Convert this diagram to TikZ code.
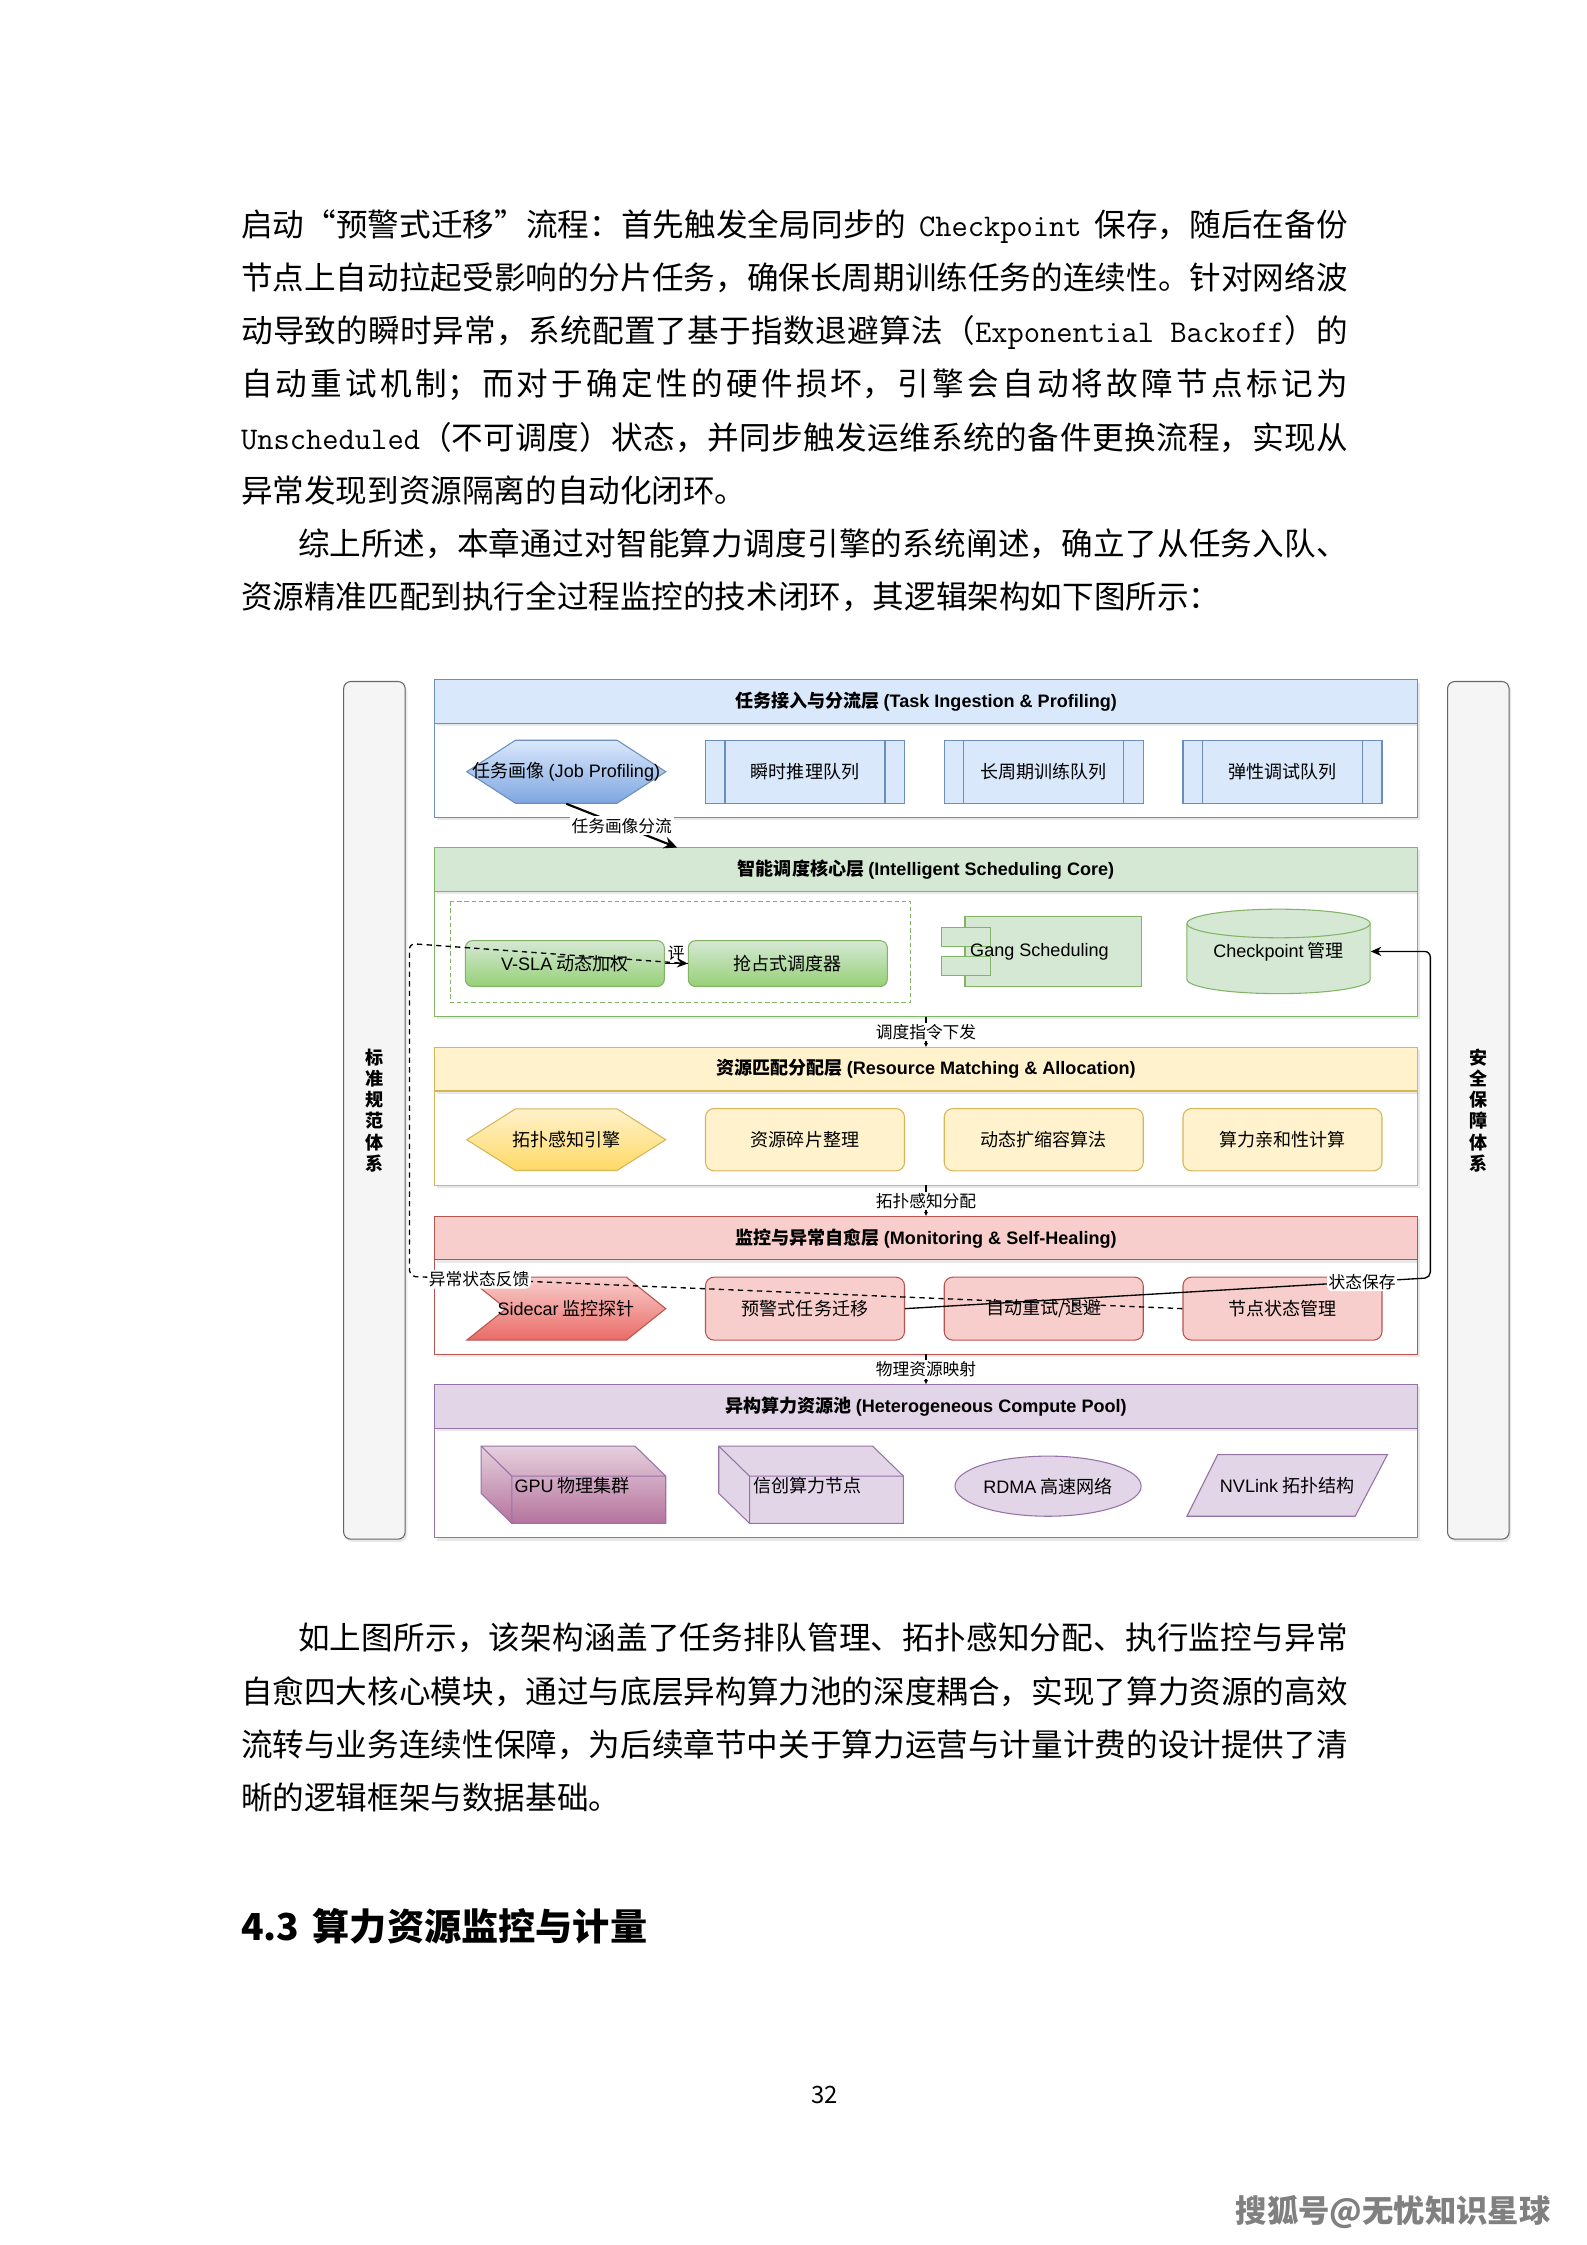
\documentclass[tikz,border=0pt]{standalone}
\usepackage{fontspec}
\setmainfont{Noto Sans CJK SC}
\newfontfamily\ensans{Liberation Sans}
\usepackage{tikz}
\usetikzlibrary{positioning,arrows.meta,shapes.geometric,shadows,calc}
\XeTeXlinebreaklocale "zh"
\XeTeXlinebreakskip=0pt plus 1.5pt minus 0.4pt
\newlength\pxu
\setlength\pxu{0.18953mm}
\definecolor{blfill}{HTML}{DAE8FC}
\definecolor{blline}{HTML}{6C8EBF}
\definecolor{blgrad}{HTML}{7EA6E0}
\definecolor{grfill}{HTML}{D5E8D4}
\definecolor{grline}{HTML}{82B366}
\definecolor{grgrad}{HTML}{97D077}
\definecolor{yefill}{HTML}{FFF2CC}
\definecolor{yeline}{HTML}{D6B656}
\definecolor{yegrad}{HTML}{FFD966}
\definecolor{rdfill}{HTML}{F8CECC}
\definecolor{rdline}{HTML}{B85450}
\definecolor{rdgrad}{HTML}{EA6B66}
\definecolor{pufill}{HTML}{E1D5E7}
\definecolor{puline}{HTML}{9673A6}
\definecolor{pugtop}{HTML}{E6D0DE}
\definecolor{pugbot}{HTML}{B5739D}
\definecolor{barfill}{HTML}{F5F5F5}
\definecolor{barline}{HTML}{666666}
\newcommand\en[1]{{\ensans #1}}
\newcommand\enb[1]{{\ensans\bfseries #1}}
\newcommand\dgfont{\fontsize{6.8pt}{8pt}\selectfont}
\newcommand\lblfont{\fontsize{6.3pt}{7.5pt}\selectfont}
\newcommand\bodyfont{\fontsize{11.9pt}{19.96pt}\selectfont}
% one justified line, filled out to the full text width
\newcommand\jl[1]{\parfillskip=0pt\relax #1\par}
\newcommand\gap{\hspace{0.4em}}
\tikzset{
  myshadow/.style={drop shadow={shadow xshift=1.5\pxu,shadow yshift=-2\pxu,opacity=0.18}},
  hdr/.style={rectangle,draw=#1line,fill=#1fill,outer sep=0pt,inner sep=0pt,
    minimum width=686.5\pxu,minimum height=30.5\pxu,font=\dgfont\bfseries,myshadow},
  bdy/.style={rectangle,draw=#1line,fill=white,outer sep=0pt,inner sep=0pt,
    minimum width=686.5\pxu,myshadow},
  sidebar/.style={rectangle,rounded corners=5\pxu,draw=barline,fill=barfill,
    minimum width=43\pxu,minimum height=599\pxu,align=center,inner sep=0pt,
    font=\fontsize{6.8pt}{8pt}\selectfont\bfseries,myshadow},
  cbox/.style={rectangle,draw=#1line,fill=#1fill,minimum width=139\pxu,
    minimum height=44\pxu,inner sep=0pt,font=\dgfont},
  rbox/.style={cbox=#1,rounded corners=6\pxu},
  gbox/.style={rbox=gr,top color=grfill,bottom color=grgrad,
    minimum height=32\pxu,rounded corners=5\pxu},
  txt/.style={inner sep=0pt,font=\dgfont},
  cubeg/.style={draw=puline,top color=pugtop,bottom color=pugbot},
  cubep/.style={draw=puline,fill=pufill},
  conn/.style={draw=black,line width=0.5pt},
  lnk/.style={conn,-{Latex[length=1.6pt,width=1.6pt]}},
  elabel/.style={font=\lblfont,fill=white,inner sep=0.6pt},
  bline/.style={anchor=base west,inner sep=0pt,text width=146.5mm,
    align=justify,font=\bodyfont}
}
\begin{document}
\begin{tikzpicture}[x=1\pxu,y=-1\pxu]
  \useasboundingbox[fill=white] (0,0) rectangle (1108,1568);

  % text above the figure
  \node[bline] (t1) at (168,165) {\jl{启动“预警式迁移”流程：首先触发全局同步的\gap\texttt{Checkpoint}\gap 保存，随后在备份}};
  \node[bline] (t2) at (168,202.15) {\jl{节点上自动拉起受影响的分片任务，确保长周期训练任务的连续性。针对网络波}};
  \node[bline] (t3) at (168,239.3) {\jl{动导致的瞬时异常，系统配置了基于指数退避算法（\texttt{Exponential Backoff}）的}};
  \node[bline] (t4) at (168,276.45) {\jl{自动重试机制；而对于确定性的硬件损坏，引擎会自动将故障节点标记为}};
  \node[bline] (t5) at (168,313.6) {\jl{\texttt{Unscheduled}（不可调度）状态，并同步触发运维系统的备件更换流程，实现从}};
  \node[bline] (t6) at (168,350.75) {异常发现到资源隔离的自动化闭环。};
  \node[bline] (t7) at (168,387.9) {\jl{\hspace*{21.5pt}综上所述，本章通过对智能算力调度引擎的系统阐述，确立了从任务入队、}};
  \node[bline] (t8) at (168,425.05) {资源精准匹配到执行全过程监控的技术闭环，其逻辑架构如下图所示：};

  % side bars
  \node[sidebar] (lbar) at (261.5,775.5) {标\\准\\规\\范\\体\\系};
  \node[sidebar] (rbar) at (1032.5,775.5) {安\\全\\保\\障\\体\\系};

  % layers (body first, header on top)
  \node[bdy=bl,minimum height=65.75\pxu] (bd1) at (646.75,538.1) {};
  \node[hdr=bl,above=0pt of bd1] (hd1) {任务接入与分流层 \enb{(Task Ingestion \& Profiling)}};
  \node[bdy=gr,minimum height=87.5\pxu,below=51.5\pxu of bd1] (bd2) {};
  \node[hdr=gr,above=0pt of bd2] (hd2) {智能调度核心层 \enb{(Intelligent Scheduling Core)}};
  \node[bdy=ye,minimum height=66\pxu,below=52\pxu of bd2] (bd3) {};
  \node[hdr=ye,above=0pt of bd3] (hd3) {资源匹配分配层 \enb{(Resource Matching \& Allocation)}};
  \node[bdy=rd,minimum height=66\pxu,below=52\pxu of bd3] (bd4) {};
  \node[hdr=rd,above=0pt of bd4] (hd4) {监控与异常自愈层 \enb{(Monitoring \& Self-Healing)}};
  \node[bdy=pu,minimum height=76.5\pxu,below=51.5\pxu of bd4] (bd5) {};
  \node[hdr=pu,above=0pt of bd5] (hd5) {异构算力资源池 \enb{(Heterogeneous Compute Pool)}};

  % layer 1: ingestion
  \draw[draw=blline,top color=blfill,bottom color=blgrad]
    (326,539) -- (360,517) -- (431,517) -- (465,539) -- (431,561) -- (360,561) -- cycle;
  \node[txt,minimum width=139\pxu,minimum height=44\pxu] (jobp) at (395.5,539) {任务画像 \en{(Job Profiling)}};
  \node[cbox=bl,right=27\pxu of jobp] (q1) {瞬时推理队列};
  \node[cbox=bl,right=27\pxu of q1] (q2) {长周期训练队列};
  \node[cbox=bl,right=27\pxu of q2] (q3) {弹性调试队列};
  \foreach \q in {q1,q2,q3}
    \draw[blline] ([xshift=14\pxu]\q.north west) -- ([xshift=14\pxu]\q.south west)
      ([xshift=-14\pxu]\q.north east) -- ([xshift=-14\pxu]\q.south east);

  % layer 2: scheduling core
  \draw[grline,dash pattern=on 1.6pt off 1.1pt] (314.6,629.5) rectangle (636,700);
  \node[gbox] (vsla) at (394.5,673) {\en{V-SLA} 动态加权};
  \node[gbox,right=16\pxu of vsla] (pre) {抢占式调度器};
  \draw[draw=grline,fill=grfill] (674,640) rectangle (797,689);
  \draw[draw=grline,fill=grfill] (657.6,648) rectangle (691.7,661)
    (657.6,668) rectangle (691.7,681.5);
  \node[txt] (gang) at (726,664.5) {\en{Gang Scheduling}};
  \draw[draw=grline,fill=grfill] (829,645) -- (829,684)
    arc[start angle=180,end angle=360,x radius=64\pxu,y radius=10\pxu] -- (957,645)
    arc[start angle=0,end angle=180,x radius=64\pxu,y radius=10\pxu] -- cycle;
  \draw[grline] (829,645) arc[start angle=180,end angle=360,x radius=64\pxu,y radius=10\pxu];
  \node[txt,minimum width=128\pxu,minimum height=59\pxu] (ck) at (893,664.5) {\en{Checkpoint} 管理};

  % layer 3: matching
  \draw[draw=yeline,top color=yefill,bottom color=yegrad]
    (326,796) -- (360,774.5) -- (431,774.5) -- (465,796) -- (431,817.5) -- (360,817.5) -- cycle;
  \node[txt,minimum width=139\pxu,minimum height=43\pxu] (topo) at (395.5,796) {拓扑感知引擎};
  \node[rbox=ye,minimum height=43.5\pxu,right=27\pxu of topo] (frag) {资源碎片整理};
  \node[rbox=ye,minimum height=43.5\pxu,right=27\pxu of frag] (scl) {动态扩缩容算法};
  \node[rbox=ye,minimum height=43.5\pxu,right=27\pxu of scl] (aff) {算力亲和性计算};

  % layer 4: monitoring
  \draw[draw=rdline,top color=rdfill,bottom color=rdgrad]
    (326,892) -- (437.5,892) -- (465,914) -- (437.5,936) -- (326,936) -- (353.5,914) -- cycle;
  \node[txt,minimum width=139\pxu,minimum height=44\pxu] (side) at (395.5,914) {\en{Sidecar} 监控探针};
  \node[rbox=rd,right=27\pxu of side] (yj) {预警式任务迁移};
  \node[rbox=rd,right=27\pxu of yj] (rt) {自动重试/退避};
  \node[rbox=rd,right=27\pxu of rt] (ns) {节点状态管理};

  % layer 5: compute pool
  \foreach \xl/\cst in {336/cubeg,502/cubep}{
    \draw[\cst] (\xl,1010) -- ({\xl+107.5},1010) -- ({\xl+129},1031) -- ({\xl+129},1064)
      -- ({\xl+21.5},1064) -- (\xl,1043) -- cycle;
    \draw[puline] (\xl,1010) -- ({\xl+21.5},1031) -- ({\xl+129},1031)
      ({\xl+21.5},1031) -- ({\xl+21.5},1064);
  }
  \node[txt,anchor=north west] (gpu) at (359,1031.5) {\en{GPU} 物理集群};
  \node[txt,anchor=north west] (xc) at (526,1031.5) {信创算力节点};
  \node[ellipse,draw=puline,fill=pufill,minimum width=130\pxu,minimum height=42\pxu,
    inner sep=0pt,font=\dgfont] (rdma) at (732,1038) {\en{RDMA} 高速网络};
  \draw[draw=puline,fill=pufill] (829,1059) -- (850.5,1016) -- (969,1016) -- (946.5,1059) -- cycle;
  \node[txt] (nvl) at (899,1037.5) {\en{NVLink} 拓扑结构};

  % connectors
  \draw[conn,line width=0.8pt,-{Stealth[length=5pt,width=4.5pt]}] (jobp.south)
    -- ($(hd2.north west)+(169.5,0)$) node[midway,elabel] {任务画像分流};
  \draw[lnk] (bd2.south) -- (hd3.north) node[midway,elabel] {调度指令下发};
  \draw[lnk] (bd3.south) -- (hd4.north) node[midway,elabel] {拓扑感知分配};
  \draw[lnk] (bd4.south) -- (hd5.north) node[midway,elabel] {物理资源映射};
  \draw[conn] (vsla.east) -- (pre.west) node[midway,above=0.8pt,font=\lblfont,inner sep=0pt] {评};
  \draw[conn,dash pattern=on 2pt off 1.6pt,rounded corners=4\pxu,
    -{Stealth[length=4pt,width=3.5pt]}] (ns.west)
    -- node[pos=0.91,elabel] {异常状态反馈} (286,891.5) -- (286,659) -- (pre.west);
  \draw[conn,rounded corners=4\pxu,-{Stealth[length=4pt,width=3.5pt]}] (yj.east)
    -- node[pos=0.87,elabel] {状态保存} (999,892.5) -- (999,664.5) -- (ck.east);

  % text below the figure
  \node[bline] (t9) at (168,1152.4) {\jl{\hspace*{21.5pt}如上图所示，该架构涵盖了任务排队管理、拓扑感知分配、执行监控与异常}};
  \node[bline] (t10) at (168,1189.55) {\jl{自愈四大核心模块，通过与底层异构算力池的深度耦合，实现了算力资源的高效}};
  \node[bline] (t11) at (168,1226.7) {\jl{流转与业务连续性保障，为后续章节中关于算力运营与计量计费的设计提供了清}};
  \node[bline] (t12) at (168,1263.85) {晰的逻辑框架与数据基础。};
  \node[anchor=base west,inner sep=0pt,font=\fontsize{14pt}{16pt}\selectfont\bfseries] (sec) at (168,1355) {4.3\hspace{5pt}算力资源监控与计量};
  \node[inner sep=0pt,font=\fontsize{9pt}{10pt}\selectfont] (pgno) at (576,1463) {32};
  \node[inner sep=0pt,text=black!50,font=\fontsize{11.8pt}{13pt}\selectfont\bfseries] (mark) at (973,1545) {搜狐号@无忧知识星球};
\end{tikzpicture}
\end{document}
